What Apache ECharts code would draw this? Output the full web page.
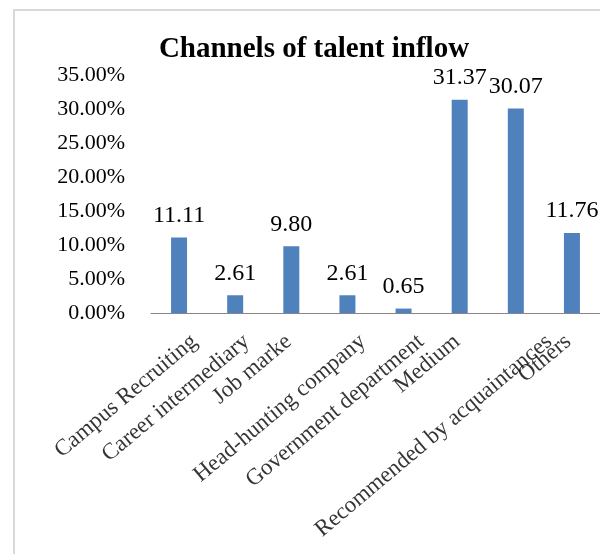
<!DOCTYPE html>
<html>
<head>
<meta charset="utf-8">
<script src="https://cdn.jsdelivr.net/npm/echarts@6/dist/echarts.min.js"></script>
<style>
  html, body { margin: 0; padding: 0; background: #fff; }
  #chart { width: 600px; height: 554px; }
</style>
</head>
<body>
<div id="chart"></div>
<script>
const channels = [
  "Campus Recruiting",
  "Career intermediary",
  "Job marke",
  "Head-hunting company",
  "Government department",
  "Medium",
  "Recommended by acquaintances",
  "Others"
];
const shares = [11.11, 2.61, 9.80, 2.61, 0.65, 31.37, 30.07, 11.76];
const yTicks = [0, 5, 10, 15, 20, 25, 30, 35];

const serif = "Liberation Serif";
const rot = 40;
// the original shifts its longer slanted labels to the right (px)
const nudge = [8, 4, -10, 8, 10, -10, 26, -11];
const drop = 17;
const cs = Math.cos(rot * Math.PI / 180), sn = Math.sin(rot * Math.PI / 180);

// category names drawn as labels of an invisible point at the foot of each bar
const nameMarks = channels.map(function (name, i) {
  const dx = nudge[i], dy = drop;
  return {
    value: [name, 0],
    label: { offset: [cs * dx - sn * dy, sn * dx + cs * dy] }
  };
});

const chart = echarts.init(document.getElementById("chart"));
chart.setOption({
  animation: false,
  title: {
    text: "Channels of talent inflow",
    left: 309,
    top: 30,
    textAlign: "center",
    textStyle: {
      fontFamily: serif,
      fontWeight: "bold",
      fontSize: 29,
      color: "#000"
    }
  },
  graphic: [
    {
      type: "rect",
      shape: { x: 14, y: 10, width: 620, height: 600 },
      style: { fill: "none", stroke: "#d9d9d9", lineWidth: 2 },
      silent: true
    }
  ],
  grid: {
    left: 151,
    top: 75,
    width: 456,
    bottom: 241
  },
  xAxis: {
    type: "category",
    data: channels,
    axisTick: { show: false },
    axisLabel: { show: false },
    axisLine: { lineStyle: { color: "#868686", width: 1 } }
  },
  yAxis: {
    type: "value",
    min: yTicks[0],
    max: yTicks[yTicks.length - 1],
    interval: 5,
    splitLine: { show: false },
    axisLine: { show: false },
    axisTick: { show: false },
    axisLabel: {
      margin: 26,
      fontFamily: serif,
      fontSize: 22,
      color: "#000",
      formatter: function (v) {
        return v.toFixed(2) + "%";
      }
    }
  },
  series: [
    {
      type: "bar",
      data: shares,
      barWidth: 16,
      itemStyle: { color: "#4f81bd" },
      label: {
        show: true,
        position: "top",
        distance: 10,
        fontFamily: serif,
        fontSize: 24,
        color: "#000",
        formatter: function (p) {
          return p.value.toFixed(2);
        }
      }
    },
    {
      type: "scatter",
      data: nameMarks,
      symbolSize: 1,
      silent: true,
      itemStyle: { color: "rgba(0,0,0,0)" },
      label: {
        show: true,
        position: "inside",
        rotate: rot,
        align: "right",
        verticalAlign: "top",
        fontFamily: serif,
        fontSize: 23,
        color: "#000",
        formatter: function (p) {
          return p.name || p.value[0];
        }
      }
    }
  ]
});
</script>
</body>
</html>
